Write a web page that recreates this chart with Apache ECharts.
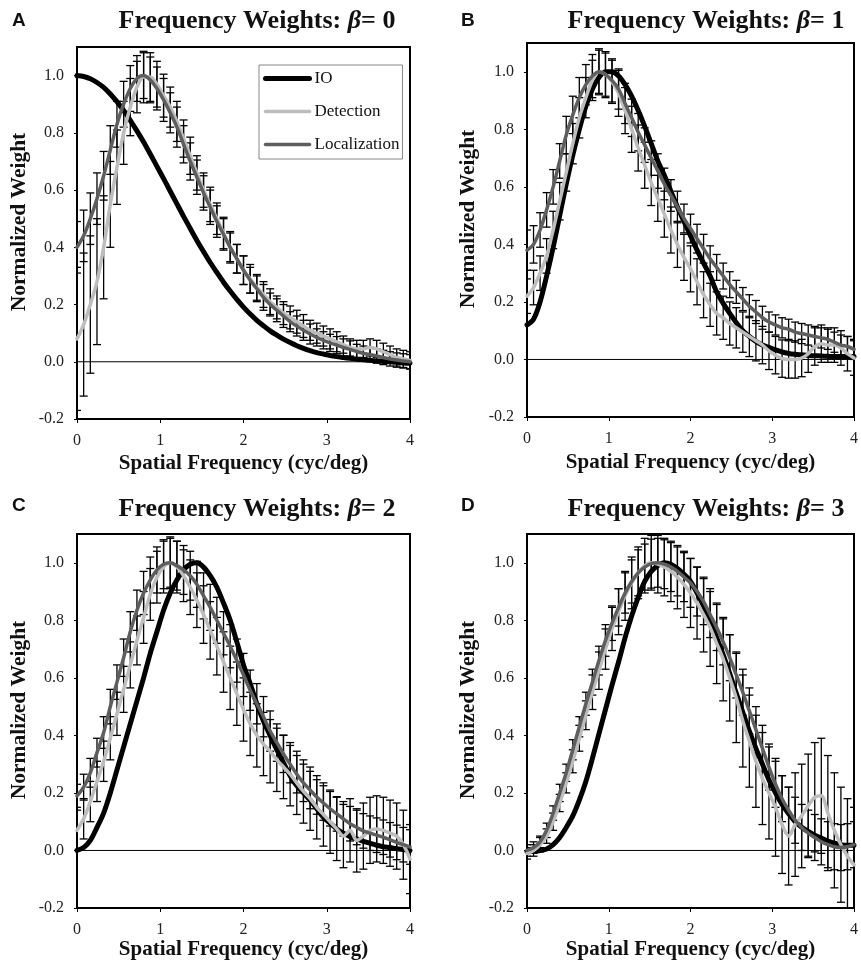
<!DOCTYPE html>
<html>
<head>
<meta charset="utf-8">
<script src="https://cdn.jsdelivr.net/npm/echarts@6/dist/echarts.min.js"></script>
<style>
html,body{margin:0;padding:0;background:#fff;}
#c{width:861px;height:965px;}
</style>
</head>
<body>
<div id="c"></div>
<script>
// ---- data ----
const freq = [
  0,0.08,0.16,0.24,0.32,0.40,0.48,0.56,0.64,0.72,
  0.80,0.88,0.96,1.04,1.12,1.20,1.28,1.36,1.44,1.52,
  1.60,1.68,1.76,1.84,1.92,2.00,2.08,2.16,2.24,2.32,
  2.40,2.48,2.56,2.64,2.72,2.80,2.88,2.96,3.04,3.12,
  3.20,3.28,3.36,3.44,3.52,3.60,3.68,3.76,3.84,3.92,
  4.00];
const xTicks = [0,1,2,3,4];
const yTicks = [-0.2,0,0.2,0.4,0.6,0.8,1.0];
const seriesNames = ['IO','Detection','Localization'];
const betas = ['0','1','2','3'];
const panelLetters = ['A','B','C','D'];

// Panel A (beta = 0)
const ioA = [
  1.000,0.997,0.989,0.976,0.959,0.936,0.909,0.878,0.844,0.807,
  0.768,0.726,0.683,0.640,0.596,0.552,0.508,0.466,0.424,0.385,
  0.347,0.312,0.278,0.247,0.218,0.191,0.167,0.145,0.126,0.108,
  0.093,0.079,0.067,0.056,0.047,0.039,0.032,0.027,0.022,0.018,
  0.015,0.012,0.009,0.007,0.005,0.003,0.001,0.000,-0.002,-0.004,
  -0.005];
const detA = [
  0.08,0.13,0.20,0.28,0.40,0.55,0.68,0.80,0.89,0.96,
  0.995,0.995,0.97,0.93,0.89,0.84,0.78,0.72,0.66,0.60,
  0.55,0.50,0.45,0.40,0.36,0.32,0.29,0.26,0.235,0.21,
  0.19,0.17,0.155,0.14,0.125,0.11,0.10,0.09,0.08,0.07,
  0.06,0.05,0.045,0.045,0.05,0.045,0.035,0.025,0.015,0.01,
  0.005];
const locA = [
  0.40,0.44,0.50,0.57,0.65,0.74,0.83,0.90,0.955,0.99,
  1.00,0.985,0.955,0.915,0.87,0.82,0.76,0.70,0.645,0.59,
  0.54,0.49,0.445,0.40,0.36,0.32,0.285,0.255,0.225,0.20,
  0.18,0.16,0.14,0.125,0.11,0.097,0.085,0.075,0.066,0.058,
  0.05,0.043,0.036,0.03,0.025,0.02,0.015,0.01,0.006,0.003,
  0.0];
const detErrA = [
  0.25,0.25,0.24,0.22,0.18,0.15,0.13,0.11,0.10,0.09,
  0.09,0.085,0.08,0.075,0.07,0.07,0.065,0.065,0.06,0.06,
  0.06,0.055,0.055,0.055,0.05,0.05,0.05,0.045,0.045,0.045,
  0.04,0.04,0.04,0.04,0.04,0.035,0.035,0.035,0.035,0.035,
  0.03,0.03,0.03,0.03,0.03,0.03,0.03,0.03,0.03,0.03,
  0.03];
const locErrA = [
  0.09,0.09,0.09,0.09,0.085,0.085,0.08,0.08,0.08,0.08,
  0.08,0.08,0.075,0.075,0.07,0.07,0.065,0.065,0.06,0.06,
  0.06,0.055,0.055,0.05,0.05,0.05,0.045,0.045,0.045,0.04,
  0.04,0.04,0.035,0.035,0.035,0.035,0.03,0.03,0.03,0.03,
  0.03,0.03,0.025,0.025,0.025,0.025,0.025,0.025,0.025,0.025,
  0.025];

// Panel B (beta = 1)
const ioB = [
  0.12,0.14,0.20,0.29,0.39,0.50,0.61,0.71,0.80,0.88,
  0.94,0.98,1.00,1.00,0.985,0.955,0.915,0.865,0.81,0.75,
  0.69,0.64,0.585,0.53,0.48,0.43,0.38,0.335,0.29,0.235,
  0.195,0.16,0.128,0.10,0.08,0.063,0.05,0.042,0.033,0.026,
  0.021,0.018,0.016,0.014,0.013,0.012,0.011,0.01,0.01,0.01,
  0.01];
const detB = [
  0.22,0.25,0.30,0.36,0.45,0.55,0.65,0.75,0.84,0.91,
  0.97,1.00,0.99,0.965,0.925,0.865,0.80,0.735,0.675,0.615,
  0.56,0.505,0.45,0.40,0.355,0.315,0.27,0.225,0.19,0.16,
  0.145,0.125,0.11,0.095,0.08,0.065,0.05,0.03,0.015,0.003,
  0.0,0.0,0.005,0.02,0.045,0.055,0.05,0.05,0.04,0.02,
  0.005];
const locB = [
  0.38,0.40,0.45,0.52,0.60,0.69,0.78,0.85,0.91,0.955,
  0.985,1.00,0.99,0.97,0.94,0.89,0.84,0.79,0.745,0.70,
  0.655,0.61,0.57,0.53,0.49,0.455,0.42,0.385,0.35,0.32,
  0.29,0.26,0.235,0.21,0.185,0.165,0.145,0.13,0.12,0.11,
  0.105,0.095,0.09,0.085,0.08,0.075,0.07,0.06,0.05,0.045,
  0.035];
const detErrB = [
  0.06,0.06,0.06,0.06,0.065,0.065,0.065,0.07,0.07,0.07,
  0.07,0.075,0.075,0.075,0.08,0.08,0.08,0.08,0.08,0.08,
  0.08,0.08,0.08,0.08,0.08,0.08,0.08,0.08,0.075,0.075,
  0.075,0.075,0.07,0.07,0.07,0.07,0.065,0.065,0.065,0.065,
  0.065,0.065,0.065,0.065,0.065,0.065,0.06,0.06,0.06,0.06,
  0.06];
const locErrB = [
  0.07,0.065,0.06,0.06,0.06,0.06,0.065,0.065,0.07,0.07,
  0.075,0.08,0.08,0.075,0.07,0.07,0.065,0.065,0.06,0.06,
  0.06,0.055,0.055,0.055,0.05,0.05,0.05,0.05,0.045,0.045,
  0.045,0.045,0.04,0.04,0.04,0.04,0.04,0.035,0.035,0.035,
  0.035,0.035,0.035,0.035,0.035,0.035,0.035,0.035,0.035,0.035,
  0.035];

// Panel C (beta = 2)
const ioC = [
  0.00,0.01,0.035,0.08,0.13,0.20,0.28,0.36,0.44,0.52,
  0.60,0.685,0.76,0.835,0.895,0.94,0.975,0.995,1.00,0.985,
  0.955,0.915,0.86,0.80,0.725,0.645,0.58,0.51,0.45,0.40,
  0.35,0.305,0.26,0.225,0.20,0.175,0.145,0.115,0.095,0.075,
  0.06,0.048,0.04,0.032,0.025,0.018,0.013,0.01,0.006,0.003,
  0.0];
const detC = [
  0.07,0.11,0.17,0.24,0.31,0.39,0.475,0.56,0.645,0.73,
  0.81,0.89,0.95,0.985,1.00,0.985,0.955,0.915,0.87,0.82,
  0.765,0.71,0.655,0.60,0.545,0.49,0.44,0.40,0.37,0.345,
  0.315,0.29,0.265,0.235,0.205,0.18,0.15,0.125,0.10,0.075,
  0.05,0.07,0.035,0.05,0.07,0.075,0.07,0.06,0.05,0.02,
  -0.03];
const locC = [
  0.19,0.22,0.27,0.34,0.41,0.50,0.585,0.67,0.76,0.835,
  0.895,0.94,0.975,0.995,1.00,0.99,0.975,0.955,0.925,0.885,
  0.845,0.80,0.755,0.71,0.66,0.61,0.557,0.51,0.465,0.415,
  0.375,0.336,0.30,0.265,0.235,0.21,0.186,0.165,0.145,0.127,
  0.11,0.093,0.08,0.068,0.06,0.053,0.046,0.037,0.028,0.02,
  0.012];
const detErrC = [
  0.07,0.07,0.07,0.07,0.07,0.075,0.075,0.08,0.08,0.085,
  0.09,0.09,0.09,0.09,0.09,0.09,0.09,0.095,0.095,0.10,
  0.10,0.10,0.105,0.11,0.11,0.11,0.11,0.11,0.11,0.11,
  0.11,0.11,0.11,0.11,0.11,0.11,0.11,0.11,0.11,0.11,
  0.11,0.11,0.11,0.115,0.115,0.115,0.115,0.115,0.115,0.12,
  0.12];
const locErrC = [
  0.04,0.045,0.05,0.05,0.055,0.06,0.06,0.065,0.07,0.07,
  0.075,0.08,0.08,0.085,0.085,0.085,0.085,0.085,0.08,0.08,
  0.08,0.08,0.075,0.075,0.075,0.075,0.07,0.07,0.07,0.07,
  0.065,0.065,0.065,0.065,0.065,0.065,0.06,0.06,0.06,0.06,
  0.06,0.06,0.06,0.06,0.06,0.06,0.06,0.06,0.06,0.06,
  0.06];

// Panel D (beta = 3)
const ioD = [
  -0.005,-0.003,0.0,0.005,0.02,0.045,0.08,0.12,0.175,0.24,
  0.32,0.405,0.49,0.575,0.655,0.74,0.815,0.88,0.935,0.97,
  0.99,1.00,0.995,0.98,0.96,0.935,0.895,0.85,0.795,0.74,
  0.68,0.615,0.546,0.48,0.415,0.355,0.30,0.245,0.20,0.16,
  0.128,0.10,0.081,0.066,0.053,0.043,0.033,0.025,0.02,0.018,
  0.018];
const detD = [
  -0.01,0.0,0.02,0.05,0.10,0.165,0.235,0.31,0.39,0.47,
  0.55,0.625,0.70,0.77,0.83,0.885,0.93,0.965,0.99,1.00,
  0.995,0.985,0.97,0.95,0.925,0.895,0.86,0.82,0.775,0.72,
  0.665,0.60,0.53,0.45,0.38,0.31,0.25,0.20,0.15,0.09,
  0.05,0.09,0.12,0.155,0.185,0.19,0.13,0.07,0.02,-0.02,
  -0.05];
const locD = [
  0.0,0.01,0.03,0.07,0.13,0.20,0.27,0.35,0.43,0.51,
  0.585,0.66,0.73,0.79,0.845,0.895,0.935,0.965,0.985,0.997,
  1.00,0.995,0.985,0.97,0.95,0.93,0.90,0.865,0.82,0.775,
  0.725,0.67,0.61,0.55,0.485,0.42,0.355,0.29,0.23,0.18,
  0.14,0.105,0.08,0.06,0.045,0.03,0.02,0.013,0.01,0.013,
  0.02];
const detErrD = [
  0.02,0.02,0.025,0.025,0.03,0.03,0.035,0.04,0.045,0.05,
  0.06,0.065,0.07,0.075,0.08,0.085,0.09,0.09,0.095,0.095,
  0.10,0.10,0.105,0.11,0.115,0.12,0.125,0.13,0.135,0.14,
  0.145,0.15,0.155,0.16,0.16,0.16,0.16,0.16,0.17,0.17,
  0.17,0.18,0.18,0.18,0.19,0.20,0.20,0.20,0.20,0.20,
  0.20];
const locErrD = [
  0.02,0.02,0.02,0.025,0.025,0.03,0.03,0.035,0.035,0.04,
  0.045,0.05,0.055,0.06,0.065,0.07,0.075,0.08,0.08,0.085,
  0.085,0.085,0.085,0.085,0.085,0.085,0.085,0.08,0.08,0.08,
  0.08,0.08,0.08,0.08,0.08,0.08,0.08,0.08,0.08,0.08,
  0.08,0.08,0.08,0.08,0.08,0.08,0.08,0.08,0.08,0.08,
  0.08];

// ---- layout & style ----
const Y_MIN = -0.2, Y_MAX = 1.1;
const panelData = [
  {io: ioA, det: detA, loc: locA, detErr: detErrA, locErr: locErrA},
  {io: ioB, det: detB, loc: locB, detErr: detErrB, locErr: locErrB},
  {io: ioC, det: detC, loc: locC, detErr: detErrC, locErr: locErrC},
  {io: ioD, det: detD, loc: locD, detErr: detErrD, locErr: locErrD}
];
const layout = [
  {left: 77,  top: 47,  width: 333, height: 372, xGap: 34, yGap: 47, titleX: 257, titleY: 8,   letterX: 12,  letterY: 11},
  {left: 527, top: 43,  width: 333, height: 374, xGap: 35, yGap: 48, titleX: 706, titleY: 8,   letterX: 461, letterY: 11},
  {left: 77,  top: 534, width: 333, height: 374, xGap: 29, yGap: 47, titleX: 257, titleY: 496, letterX: 12,  letterY: 496},
  {left: 527, top: 534, width: 333, height: 374, xGap: 29, yGap: 48, titleX: 706, titleY: 496, letterX: 461, letterY: 496}
];
const SERIF = 'Liberation Serif';
const colors = {IO: '#000000', Detection: '#bdbdbd', Localization: '#5e5e5e'};
const widths = {IO: 5, Detection: 3.5, Localization: 3.5};

function errRender(params, api) {
  const x = api.value(0);
  const lo = api.value(1), hi = api.value(2);
  const loC = Math.max(lo, Y_MIN), hiC = Math.min(hi, Y_MAX);
  const p1 = api.coord([x, loC]);
  const p2 = api.coord([x, hiC]);
  const style = {stroke: '#000', lineWidth: 1.3};
  const hw = 4;
  const children = [
    {type: 'line', shape: {x1: p1[0], y1: p1[1], x2: p2[0], y2: p2[1]}, style: style}
  ];
  if (lo >= Y_MIN) children.push({type: 'line', shape: {x1: p1[0] - hw, y1: p1[1], x2: p1[0] + hw, y2: p1[1]}, style: style});
  if (hi <= Y_MAX) children.push({type: 'line', shape: {x1: p2[0] - hw, y1: p2[1], x2: p2[0] + hw, y2: p2[1]}, style: style});
  return {type: 'group', children: children};
}

const grids = [], xAxes = [], yAxes = [], series = [], titles = [];
layout.forEach((L, i) => {
  grids.push({left: L.left, top: L.top, width: L.width, height: L.height,
    show: true, borderColor: '#000', borderWidth: 2, backgroundColor: '#fff', containLabel: false});
  xAxes.push({
    type: 'value', gridIndex: i, min: 0, max: 4, interval: 1,
    name: 'Spatial Frequency (cyc/deg)', nameLocation: 'middle', nameGap: L.xGap,
    nameTextStyle: {fontFamily: SERIF, fontWeight: 'bold', fontSize: 21, color: '#111'},
    axisLine: {show: true, onZero: false, lineStyle: {color: '#000', width: 2}},
    axisTick: {show: true, length: 4, customValues: xTicks, lineStyle: {color: '#000', width: 1}},
    axisLabel: {customValues: xTicks, fontFamily: SERIF, fontSize: 16, color: '#222', margin: 14,
      formatter: v => String(v)},
    splitLine: {show: false}
  });
  yAxes.push({
    type: 'value', gridIndex: i, min: Y_MIN, max: Y_MAX, interval: 0.2,
    name: 'Normalized Weight', nameLocation: 'middle', nameGap: L.yGap,
    nameTextStyle: {fontFamily: SERIF, fontWeight: 'bold', fontSize: 21.5, color: '#111', padding: [0, 0, 0, 22]},
    axisLine: {show: true, onZero: false, lineStyle: {color: '#000', width: 2}},
    axisTick: {show: true, length: 3, customValues: yTicks, lineStyle: {color: '#000', width: 1}},
    axisLabel: {customValues: yTicks, fontFamily: SERIF, fontSize: 16, color: '#222', margin: 13,
      formatter: v => (v > 1.05 ? '' : Number(v).toFixed(1))},
    splitLine: {show: false}
  });
  const P = panelData[i];
  // zero reference line
  series.push({type: 'line', name: 'zero', xAxisIndex: i, yAxisIndex: i, z: 1,
    data: [[xTicks[0], 0], [xTicks[xTicks.length - 1], 0]], symbol: 'none', silent: true,
    lineStyle: {color: '#000', width: 1}, tooltip: {show: false}});
  // error bars
  series.push({type: 'custom', name: 'detErr', xAxisIndex: i, yAxisIndex: i, z: 2, clip: true,
    renderItem: errRender, silent: true,
    data: freq.map((x, j) => [x, P.det[j] - P.detErr[j], P.det[j] + P.detErr[j]])});
  series.push({type: 'custom', name: 'locErr', xAxisIndex: i, yAxisIndex: i, z: 2, clip: true,
    renderItem: errRender, silent: true,
    data: freq.map((x, j) => [x, P.loc[j] - P.locErr[j], P.loc[j] + P.locErr[j]])});
  const vals = {IO: P.io, Detection: P.det, Localization: P.loc};
  seriesNames.forEach((nm, k) => {
    series.push({type: 'line', name: nm, xAxisIndex: i, yAxisIndex: i, z: 3 + k,
      data: freq.map((x, j) => [x, vals[nm][j]]), symbol: 'none', smooth: 0.3,
      color: colors[nm],
      lineStyle: {color: colors[nm], width: widths[nm], cap: 'round', join: 'round'}});
  });
  titles.push({text: 'Frequency Weights: {b|β}= ' + betas[i], left: L.titleX, top: L.titleY,
    textAlign: 'center', padding: 0,
    textStyle: {fontFamily: SERIF, fontWeight: 'bold', fontSize: 26, color: '#111',
      rich: {b: {fontFamily: SERIF, fontWeight: 'bold', fontStyle: 'italic', fontSize: 26, color: '#111'}}}});
  titles.push({text: panelLetters[i], left: L.letterX, top: L.letterY, padding: 0,
    textStyle: {fontFamily: 'Liberation Sans', fontWeight: 'bold', fontSize: 19, color: '#111'}});
});

const chart = echarts.init(document.getElementById('c'), null, {renderer: 'canvas'});
chart.setOption({
  animation: false,
  backgroundColor: '#fff',
  title: titles,
  legend: {
    data: seriesNames, orient: 'vertical', left: 259, top: 65,
    itemWidth: 44, itemHeight: 14, itemGap: 16,
    padding: [5, 3, 6, 4], backgroundColor: '#fff', borderColor: '#888', borderWidth: 1, borderRadius: 0,
    selectedMode: false,
    itemStyle: {opacity: 0},
    lineStyle: {width: 'inherit', cap: 'round'},
    textStyle: {fontFamily: SERIF, fontSize: 17, color: '#111'}
  },
  grid: grids,
  xAxis: xAxes,
  yAxis: yAxes,
  series: series
});
</script>
</body>
</html>
